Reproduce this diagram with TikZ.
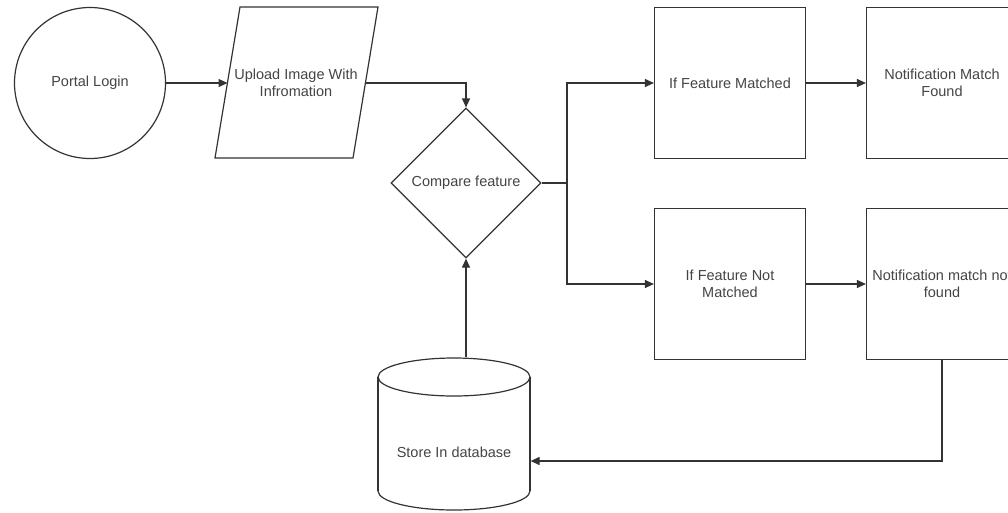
\documentclass[tikz,border=0pt]{standalone}
\usepackage{fontspec}
\setmainfont{Liberation Sans}
\usetikzlibrary{shapes.geometric,arrows.meta}
\definecolor{txt}{HTML}{444444}
\definecolor{ln}{HTML}{333333}
\begin{document}
\begin{tikzpicture}[x=1pt,y=-1pt,line width=1.2pt,color=ln,
  every node/.style={font=\fontsize{14.5}{17.5}\selectfont,text=txt},
  arr/.style={-{Triangle[length=9pt,width=8pt]}},
  box/.style={rectangle,draw=ln,minimum width=151pt,minimum height=151pt,inner sep=0pt,align=center}]
\useasboundingbox (0,0) rectangle (1008,512);
\clip (0,0) rectangle (1008,512);
% start
\node[circle,draw=ln,minimum size=151pt,inner sep=0pt] (login) at (90,83) {Portal Login};
% parallelogram
\draw (240,7) -- (378,7) -- (353,158) -- (215,158) -- cycle;
\node[align=center] (upload) at (296,83) {Upload Image With\\Infromation};
\coordinate (upL) at (227.5,83);
\coordinate (upR) at (365.5,83);
% decision
\node[diamond,draw=ln,minimum width=150pt,minimum height=150pt,inner sep=0pt] (cmp) at (466,183) {Compare feature};
% boxes
\node[box] (fm) at (730,83) {If Feature Matched};
\node[box] (nmf) at (942,83) {Notification Match\\Found};
\node[box] (fnm) at (730,284) {If Feature Not\\Matched};
\node[box] (nmnf) at (942,284) {Notification match not\\found};
% database
\draw (454,377) ellipse [x radius=76, y radius=19];
\draw (378,377) -- (378,491);
\draw (530,377) -- (530,491);
\begin{scope}
\clip (370,491) rectangle (540,515);
\draw (454,491) ellipse [x radius=76, y radius=19];
\end{scope}
\node[minimum width=152pt,minimum height=152pt,inner sep=0pt] (db) at (454,434) {};
\node (dbtext) at (454,452) {Store In database};
% connectors
\draw[arr] (login) -- (upL);
\draw[arr] (upR) -| (cmp.north);
\draw (cmp.east) -- (567,183) coordinate (split);
\draw[arr] (split) |- (fm.west);
\draw[arr] (split) |- (fnm.west);
\draw[arr] (fm) -- (nmf);
\draw[arr] (fnm) -- (nmnf);
\draw[arr] (nmnf.south) |- ([yshift=-27pt]db.east);
\draw[arr] (cmp.south |- db.north) -- (cmp.south);
\end{tikzpicture}
\end{document}
